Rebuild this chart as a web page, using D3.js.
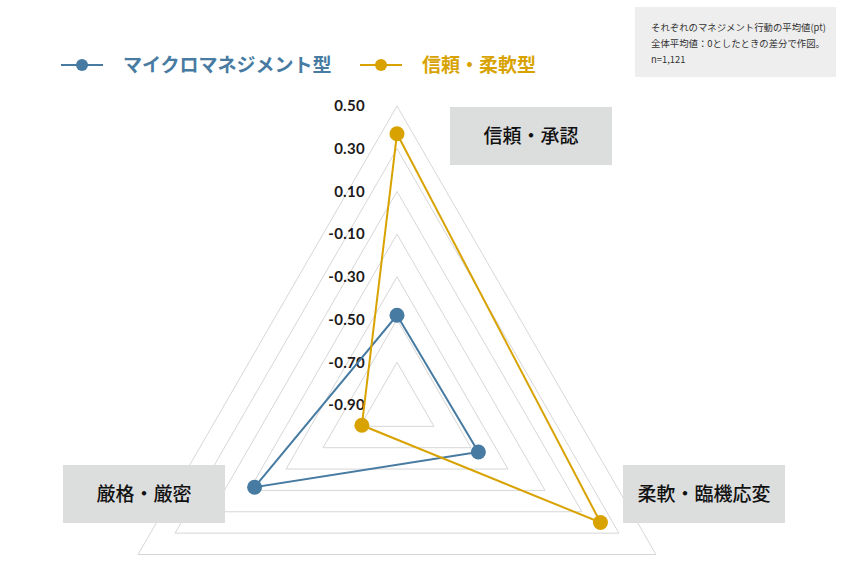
<!DOCTYPE html>
<html>
<head>
<meta charset="utf-8">
<script src="https://cdn.jsdelivr.net/npm/d3@7"></script>
<style>
  body { margin: 0; background: #fff; }
  svg { display: block; font-family: "Noto Sans CJK JP", sans-serif; }
</style>
</head>
<body>
<svg></svg>
<script>
// data
const axes = ['信頼・承認', '柔軟・臨機応変', '厳格・厳密']
const seriesNames = ['マイクロマネジメント型', '信頼・柔軟型']
const microValues = [-0.48, -0.46, -0.13]
const trustValues = [0.37, 0.20, -0.71]
const gridLevels = [0.50, 0.30, 0.10, -0.10, -0.30, -0.50, -0.70]
const tickLabels = ['0.50', '0.30', '0.10', '-0.10', '-0.30', '-0.50', '-0.70', '-0.90']
const tickValues = [0.50, 0.30, 0.10, -0.10, -0.30, -0.50, -0.70, -0.90]
const noteLines = ['それぞれのマネジメント行動の平均値(pt)', '全体平均値：0としたときの差分で作図。', 'n=1,121']

const width = 846
const height = 580
const cx = 397
const cy = 405
const colors = ['#477ba2', '#d8a300']

let svg = d3.select('svg').attr('width', width).attr('height', height)

let rScale = d3.scaleLinear().domain([-0.9, 0.5]).range([0, 299])
let angle = i => -Math.PI / 2 + i * 2 * Math.PI / 3

function point(v, i) {
    let r = rScale(v)
    return [cx + r * Math.cos(angle(i)), cy + r * Math.sin(angle(i))]
}

// grid triangles
svg.append('g')
    .selectAll('polygon')
    .data(gridLevels)
    .enter()
    .append('polygon')
    .attr('points', d => axes.map((a, i) => point(d, i).join(',')).join(' '))
    .attr('fill', 'none')
    .attr('stroke', '#d6d6d6')
    .attr('stroke-width', 1)

// tick labels
svg.append('g')
    .selectAll('text')
    .data(tickValues)
    .enter()
    .append('text')
    .attr('x', 365)
    .attr('y', d => cy - rScale(d))
    .attr('dy', '0.35em')
    .attr('text-anchor', 'end')
    .attr('font-family', 'Lato, sans-serif')
    .attr('font-weight', 'bold')
    .attr('font-size', 15)
    .attr('letter-spacing', 0.3)
    .attr('fill', '#1e1a1a')
    .text((d, i) => tickLabels[i])

// axis label boxes
const boxes = [
    { x: 450, y: 107, w: 162 },
    { x: 623, y: 465, w: 162 },
    { x: 63, y: 465, w: 162 }
]
let labelG = svg.append('g')
axes.forEach((a, i) => {
    let b = boxes[i]
    labelG.append('rect')
        .attr('x', b.x).attr('y', b.y)
        .attr('width', b.w).attr('height', 58)
        .attr('fill', '#dcdddd')
    labelG.append('text')
        .attr('x', b.x + b.w / 2)
        .attr('y', b.y + 29)
        .attr('dy', '0.36em')
        .attr('text-anchor', 'middle')
        .attr('font-size', 19)
        .attr('font-weight', 500)
        .attr('fill', '#111')
        .text(a)
})

// series
let line = d3.line().curve(d3.curveLinearClosed)
;[microValues, trustValues].forEach((vals, s) => {
    let pts = vals.map((v, i) => point(v, i))
    let g = svg.append('g')
    g.append('path')
        .attr('d', line(pts))
        .attr('fill', 'none')
        .attr('stroke', colors[s])
        .attr('stroke-width', 2)
    g.selectAll('circle')
        .data(pts)
        .enter()
        .append('circle')
        .attr('cx', d => d[0])
        .attr('cy', d => d[1])
        .attr('r', 7.5)
        .attr('fill', colors[s])
})

// legend
const legendX = [61, 360]
seriesNames.forEach((name, s) => {
    let g = svg.append('g').attr('transform', 'translate(' + legendX[s] + ',65)')
    g.append('line')
        .attr('x1', 0).attr('x2', 42)
        .attr('stroke', colors[s]).attr('stroke-width', 2)
    g.append('circle').attr('cx', 21).attr('r', 6).attr('fill', colors[s])
    g.append('text')
        .attr('x', 62)
        .attr('dy', '0.36em')
        .attr('font-size', 19)
        .attr('font-weight', 'bold')
        .attr('fill', colors[s])
        .text(name)
})

// note box
svg.append('rect')
    .attr('x', 635).attr('y', 7)
    .attr('width', 201).attr('height', 70)
    .attr('fill', '#eeeeee')
svg.append('g')
    .selectAll('text')
    .data(noteLines)
    .enter()
    .append('text')
    .attr('x', 651)
    .attr('y', (d, i) => 28 + i * 16)
    .attr('dy', '0.35em')
    .attr('font-size', 9.4)
    .attr('fill', '#333')
    .text(d => d)
</script>
</body>
</html>
